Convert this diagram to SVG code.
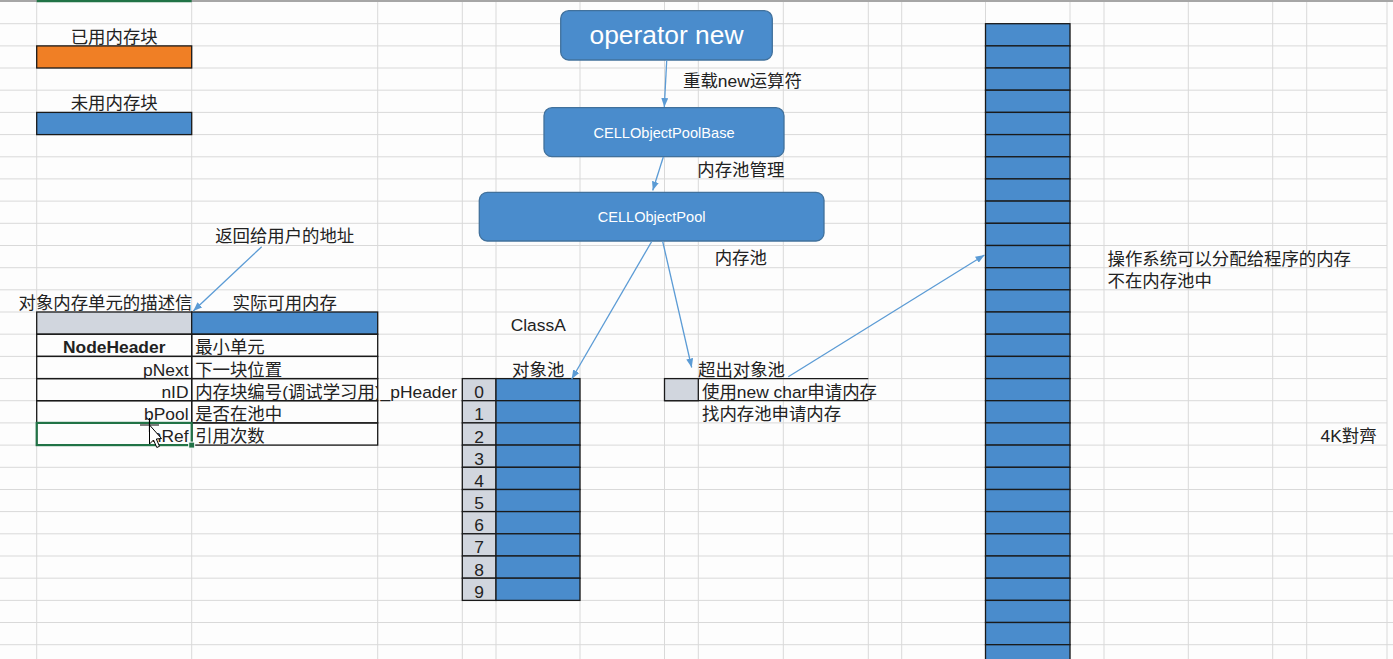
<svg xmlns="http://www.w3.org/2000/svg" width="1393" height="659" viewBox="0 0 1393 659">
<defs>
<style>
.grid{stroke:#d9d9d9;stroke-width:1;fill:none}
.cell{stroke:#1a1a1a;stroke-width:1.3}
.blue{fill:#4a8ccc}
.gray{fill:#d1d6de}
.orange{fill:#f07f25}
.t{font-family:"Liberation Sans","Noto Sans CJK SC",sans-serif;font-size:17.4px;fill:#222}
.c{text-anchor:middle}
.e{text-anchor:end}
.box{fill:#4a8ccc;stroke:#41719c;stroke-width:1.3}
.bt{font-family:"Liberation Sans","Noto Sans CJK SC",sans-serif;fill:#fff;text-anchor:middle}
.conn{stroke:#5b9bd5;stroke-width:1.3;fill:none;marker-end:url(#ah)}
</style>
<marker id="ah" viewBox="0 0 9 7" refX="9" refY="3.5" markerWidth="9" markerHeight="7" markerUnits="userSpaceOnUse" orient="auto">
<path d="M0,0 L9,3.5 L0,7 z" fill="#5b9bd5"/>
</marker>
<clipPath id="clipNid"><rect x="191.7" y="378" width="186" height="23"/></clipPath>
</defs>
<rect x="0" y="0" width="1393" height="659" fill="#fdfdfd"/>
<g id="grid" class="grid">
<path d="M0,23.7H1387M0,45.9H1387M0,68H1387M0,90.2H1387M0,112.4H1387M0,134.6H1387M0,156.8H1387M0,178.9H1387M0,201.1H1387M0,223.3H1387M0,245.5H1387M0,267.7H1387M0,289.8H1387M0,312H1387M0,334.2H1387M0,356.4H1387M0,378.6H1387M0,400.7H1387M0,422.9H1387M0,445.1H1387M0,467.3H1387M0,489.5H1393M0,511.6H1393M0,533.8H1393M0,556H1393M0,578.2H1393M0,600.4H1393M0,622.5H1393M0,644.7H1393"/>
<path d="M36.7,0V659M191.7,0V659M377.7,0V659M462.3,0V659M496,0V659M580,0V659M664.5,0V659M698.3,0V659M783.3,0V659M868.3,0V659M901.7,0V659M985.5,0V659M1070,0V659M1104,0V659M1188.3,0V659M1272.7,0V659M1306.7,0V659M1387,0V659"/>
</g>
<path d="M0,1H1393" stroke="#a6a6a6" stroke-width="2"/>
<path d="M36.7,1H191.7" stroke="#217346" stroke-width="2.5"/>

<g id="legend-used">
<text class="t c" x="114.2" y="42.6">已用内存块</text>
<rect class="cell orange" x="36.7" y="45.9" width="155" height="22.1"/>
</g>
<g id="legend-free">
<text class="t c" x="114.2" y="109.3">未用内存块</text>
<rect class="cell blue" x="36.7" y="112.4" width="155" height="22.2"/>
</g>

<g id="node-table">
<text class="t" x="18.5" y="309">对象内存单元的描述信</text>
<text class="t c" x="284.7" y="309">实际可用内存</text>
<rect class="cell gray" x="36.7" y="312" width="155" height="22.2"/>
<rect class="cell blue" x="191.7" y="312" width="186" height="22.2"/>
<rect class="cell" fill="none" x="36.7" y="334.2" width="155" height="22.2"/>
<rect class="cell" fill="none" x="191.7" y="334.2" width="186" height="22.2"/>
<rect class="cell" fill="none" x="36.7" y="356.4" width="155" height="22.2"/>
<rect class="cell" fill="none" x="191.7" y="356.4" width="186" height="22.2"/>
<rect class="cell" fill="none" x="36.7" y="378.6" width="155" height="22.1"/>
<rect class="cell" fill="none" x="191.7" y="378.6" width="186" height="22.1"/>
<rect class="cell" fill="none" x="36.7" y="400.7" width="155" height="22.2"/>
<rect class="cell" fill="none" x="191.7" y="400.7" width="186" height="22.2"/>
<rect class="cell" fill="none" x="36.7" y="422.9" width="155" height="22.2"/>
<rect class="cell" fill="none" x="191.7" y="422.9" width="186" height="22.2"/>
<text class="t c" x="114.2" y="353.4" font-weight="bold">NodeHeader</text>
<text class="t e" x="188.5" y="375.6">pNext</text>
<text class="t e" x="188.5" y="397.7">nID</text>
<text class="t e" x="188.5" y="419.9">bPool</text>
<text class="t e" x="188.5" y="442.1">nRef</text>
<text class="t" x="195.2" y="353.4">最小单元</text>
<text class="t" x="195.2" y="375.6">下一块位置</text>
<text class="t" x="195.2" y="397.7" clip-path="url(#clipNid)">内存块编号(调试学习用)</text>
<text class="t" x="195.2" y="419.9">是否在池中</text>
<text class="t" x="195.2" y="442.1">引用次数</text>
<rect x="36.7" y="422.9" width="155" height="22.2" fill="none" stroke="#217346" stroke-width="2.2"/>
<rect x="188.7" y="442.1" width="6" height="6" fill="#217346" stroke="#fff" stroke-width="1"/>
</g>

<g id="cursor">
<path d="M140,425H159M149.5,418V432" stroke="#000" stroke-width="1.2"/>
<path d="M149.5,425 L149.5,444 L153.5,440 L156.8,447.5 L159.5,446.3 L156.3,439 L161.5,438.5 Z" fill="#fff" stroke="#000" stroke-width="1"/>
</g>

<g id="label-pheader">
<text class="t e" x="457" y="397.7">_pHeader</text>
</g>

<g id="node-object-pool">
<text class="t c" x="538.2" y="331">ClassA</text>
<text class="t c" x="538.2" y="375.6">对象池</text>
<rect class="cell gray" x="462.3" y="378.6" width="33.7" height="22.1"/>
<rect class="cell blue" x="496" y="378.6" width="84" height="22.1"/>
<rect class="cell gray" x="462.3" y="400.7" width="33.7" height="22.2"/>
<rect class="cell blue" x="496" y="400.7" width="84" height="22.2"/>
<rect class="cell gray" x="462.3" y="422.9" width="33.7" height="22.2"/>
<rect class="cell blue" x="496" y="422.9" width="84" height="22.2"/>
<rect class="cell gray" x="462.3" y="445.1" width="33.7" height="22.2"/>
<rect class="cell blue" x="496" y="445.1" width="84" height="22.2"/>
<rect class="cell gray" x="462.3" y="467.3" width="33.7" height="22.2"/>
<rect class="cell blue" x="496" y="467.3" width="84" height="22.2"/>
<rect class="cell gray" x="462.3" y="489.5" width="33.7" height="22.1"/>
<rect class="cell blue" x="496" y="489.5" width="84" height="22.1"/>
<rect class="cell gray" x="462.3" y="511.6" width="33.7" height="22.2"/>
<rect class="cell blue" x="496" y="511.6" width="84" height="22.2"/>
<rect class="cell gray" x="462.3" y="533.8" width="33.7" height="22.2"/>
<rect class="cell blue" x="496" y="533.8" width="84" height="22.2"/>
<rect class="cell gray" x="462.3" y="556" width="33.7" height="22.2"/>
<rect class="cell blue" x="496" y="556" width="84" height="22.2"/>
<rect class="cell gray" x="462.3" y="578.2" width="33.7" height="22.2"/>
<rect class="cell blue" x="496" y="578.2" width="84" height="22.2"/>
<text class="t c" x="479.2" y="398.2">0</text>
<text class="t c" x="479.2" y="420.3">1</text>
<text class="t c" x="479.2" y="442.5">2</text>
<text class="t c" x="479.2" y="464.7">3</text>
<text class="t c" x="479.2" y="486.9">4</text>
<text class="t c" x="479.2" y="509">5</text>
<text class="t c" x="479.2" y="531.2">6</text>
<text class="t c" x="479.2" y="553.4">7</text>
<text class="t c" x="479.2" y="575.6">8</text>
<text class="t c" x="479.2" y="597.8">9</text>
</g>

<g id="node-overflow">
<text class="t" x="698" y="375.6">超出对象池</text>
<path class="cell" d="M664.5,378.6H868.3M664.5,400.7H868.3" fill="none"/>
<rect class="cell gray" x="664.5" y="378.6" width="33.8" height="22.1"/>
<text class="t" x="702" y="397.7">使用new char申请内存</text>
<text class="t" x="702" y="419.9">找内存池申请内存</text>
</g>

<g id="node-os-memory">
<rect class="cell blue" x="985.5" y="23.7" width="84.5" height="22.2"/>
<rect class="cell blue" x="985.5" y="45.9" width="84.5" height="22.1"/>
<rect class="cell blue" x="985.5" y="68" width="84.5" height="22.2"/>
<rect class="cell blue" x="985.5" y="90.2" width="84.5" height="22.2"/>
<rect class="cell blue" x="985.5" y="112.4" width="84.5" height="22.2"/>
<rect class="cell blue" x="985.5" y="134.6" width="84.5" height="22.2"/>
<rect class="cell blue" x="985.5" y="156.8" width="84.5" height="22.1"/>
<rect class="cell blue" x="985.5" y="178.9" width="84.5" height="22.2"/>
<rect class="cell blue" x="985.5" y="201.1" width="84.5" height="22.2"/>
<rect class="cell blue" x="985.5" y="223.3" width="84.5" height="22.2"/>
<rect class="cell blue" x="985.5" y="245.5" width="84.5" height="22.2"/>
<rect class="cell blue" x="985.5" y="267.7" width="84.5" height="22.1"/>
<rect class="cell blue" x="985.5" y="289.8" width="84.5" height="22.2"/>
<rect class="cell blue" x="985.5" y="312" width="84.5" height="22.2"/>
<rect class="cell blue" x="985.5" y="334.2" width="84.5" height="22.2"/>
<rect class="cell blue" x="985.5" y="356.4" width="84.5" height="22.2"/>
<rect class="cell blue" x="985.5" y="378.6" width="84.5" height="22.1"/>
<rect class="cell blue" x="985.5" y="400.7" width="84.5" height="22.2"/>
<rect class="cell blue" x="985.5" y="422.9" width="84.5" height="22.2"/>
<rect class="cell blue" x="985.5" y="445.1" width="84.5" height="22.2"/>
<rect class="cell blue" x="985.5" y="467.3" width="84.5" height="22.2"/>
<rect class="cell blue" x="985.5" y="489.5" width="84.5" height="22.1"/>
<rect class="cell blue" x="985.5" y="511.6" width="84.5" height="22.2"/>
<rect class="cell blue" x="985.5" y="533.8" width="84.5" height="22.2"/>
<rect class="cell blue" x="985.5" y="556" width="84.5" height="22.2"/>
<rect class="cell blue" x="985.5" y="578.2" width="84.5" height="22.2"/>
<rect class="cell blue" x="985.5" y="600.4" width="84.5" height="22.1"/>
<rect class="cell blue" x="985.5" y="622.5" width="84.5" height="22.2"/>
<rect class="cell blue" x="985.5" y="644.7" width="84.5" height="22.2"/>
<text class="t" x="1107.5" y="264.6">操作系统可以分配给程序的内存</text>
<text class="t" x="1107.5" y="286.8">不在内存池中</text>
<text class="t c" x="1348.5" y="442.1">4K對齊</text>
</g>

<g id="node-operator-new">
<rect class="box" x="560.7" y="10.7" width="211.6" height="49.3" rx="8"/>
<text class="bt" x="666.5" y="43.8" font-size="26.4">operator new</text>
</g>
<g id="node-pool-base">
<rect class="box" x="544" y="107.7" width="240" height="49" rx="8"/>
<text class="bt" x="664" y="137.6" font-size="14.6">CELLObjectPoolBase</text>
</g>
<g id="node-pool">
<rect class="box" x="479.3" y="192.3" width="344.7" height="48.7" rx="8"/>
<text class="bt" x="651.6" y="221.7" font-size="14.6">CELLObjectPool</text>
</g>

<g id="connector-labels">
<text class="t" x="683" y="86.8">重载new运算符</text>
<text class="t c" x="740.8" y="175.6">内存池管理</text>
<text class="t c" x="740.8" y="264.3">内存池</text>
<text class="t c" x="284.7" y="242.4">返回给用户的地址</text>
</g>

<g id="connectors">
<line class="conn" x1="666.7" y1="60.5" x2="664.3" y2="107"/>
<line class="conn" x1="663.3" y1="157" x2="652.7" y2="190.5"/>
<line class="conn" x1="651.7" y1="241.5" x2="571.7" y2="379"/>
<line class="conn" x1="662.7" y1="241.5" x2="691.7" y2="367.5"/>
<line class="conn" x1="788.3" y1="376.7" x2="984.5" y2="255"/>
<line class="conn" x1="261.7" y1="246.7" x2="193.3" y2="311"/>
</g>
</svg>
